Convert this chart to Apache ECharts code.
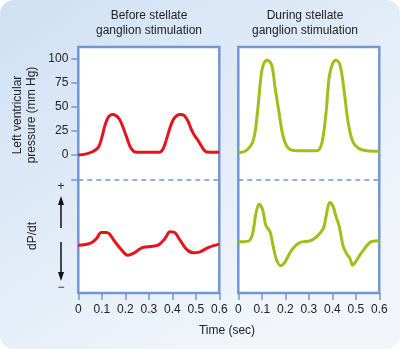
<!DOCTYPE html>
<html>
<head>
<meta charset="utf-8">
<style>
  html, body { margin: 0; padding: 0; background: #fff; }
  #chart { width: 400px; height: 349px; }
</style>
<script src="https://cdn.jsdelivr.net/npm/echarts@6/dist/echarts.min.js"></script>
</head>
<body>
<div id="chart"></div>
<script>
// Time axis (seconds) and pressure tick labels
const timeMin = 0, timeMax = 0.6, timeStep = 0.1;
const pressureTicks = [0, 25, 50, 75, 100];

// Left ventricular pressure (mm Hg) before stimulation: [time, pressure]
const beforePressure = [
  [0, 0], [0.03, 1], [0.06, 3.5], [0.085, 8], [0.1, 18], [0.115, 32], [0.13, 40],
  [0.145, 42], [0.16, 41], [0.175, 37], [0.19, 29], [0.205, 19], [0.22, 9],
  [0.235, 4], [0.25, 3], [0.3, 3], [0.345, 3], [0.36, 6], [0.375, 16], [0.39, 28],
  [0.405, 37], [0.42, 41], [0.435, 42], [0.45, 41], [0.465, 36], [0.48, 27],
  [0.495, 20], [0.51, 15], [0.525, 9], [0.54, 4], [0.56, 3], [0.6, 3]
];

// dP/dt before stimulation (relative units)
const beforeDpdt = [
  [0, -8], [0.05, -6.4], [0.078, -2], [0.097, 3.2], [0.121, 3.2], [0.156, -5],
  [0.185, -12.3], [0.21, -16.7], [0.234, -15.2], [0.27, -10.3], [0.305, -9.1],
  [0.34, -7.9], [0.369, -2], [0.39, 3.8], [0.407, 3.5], [0.433, -3.5],
  [0.461, -11.7], [0.489, -14.7], [0.518, -13.8], [0.553, -10], [0.6, -7]
];

// Left ventricular pressure (mm Hg) during stimulation
const duringPressure = [
  [0, 2.4], [0.036, 5.2], [0.064, 15.5], [0.081, 43], [0.095, 77.6], [0.106, 93],
  [0.123, 98], [0.142, 93], [0.156, 70.6], [0.174, 43], [0.191, 19], [0.213, 7],
  [0.248, 4.5], [0.334, 4.5], [0.355, 12], [0.373, 43], [0.387, 81], [0.402, 95],
  [0.416, 98], [0.433, 93], [0.45, 67], [0.468, 33], [0.487, 14], [0.511, 7],
  [0.546, 4.5], [0.6, 4]
];

// dP/dt during stimulation (relative units)
const duringDpdt = [
  [0, -5], [0.043, -4.4], [0.061, 2.3], [0.075, 20], [0.089, 28], [0.104, 22.9],
  [0.117, 9.7], [0.135, 3.8], [0.149, -9.4], [0.163, -21], [0.18, -26],
  [0.199, -22.6], [0.227, -12.3], [0.262, -5.6], [0.305, -4.1], [0.333, -0.6],
  [0.362, 6.8], [0.373, 17], [0.39, 29.6], [0.404, 25.8], [0.414, 18.5],
  [0.43, 8.2], [0.447, -9.4], [0.465, -16.7], [0.475, -19.6], [0.487, -25.5],
  [0.504, -21], [0.532, -12.3], [0.568, -4.7], [0.6, -4.1]
];

const frameBlue = '#7098d6';
const textColor = '#222';
const fontFamily = '"Liberation Sans", Arial, Helvetica, sans-serif';
const redLine = '#e5141c';
const greenLine = '#9dc01a';

const panels = [
  { left: 78.3, pressure: beforePressure, dpdt: beforeDpdt, color: redLine, showY: true },
  { left: 238.3, pressure: duringPressure, dpdt: duringDpdt, color: greenLine, showY: false }
];
const panelWidth = 141;

const grid = [], xAxis = [], yAxis = [], series = [];
panels.forEach((p, i) => {
  // frame (white box with blue border)
  grid.push({ left: p.left, top: 47, width: panelWidth, height: 246, show: true,
    backgroundColor: '#fff', borderColor: frameBlue, borderWidth: 2.5 });
  // pressure area
  grid.push({ left: p.left, top: 58.3, width: panelWidth, height: 121 });
  // dP/dt area
  grid.push({ left: p.left, top: 179.3, width: panelWidth, height: 113.7 });
  const g = i * 3;

  xAxis.push({ gridIndex: g, type: 'value', min: 0, max: 1, show: false });
  yAxis.push({ gridIndex: g, type: 'value', min: 0, max: 1, show: false });

  xAxis.push({ gridIndex: g + 1, type: 'value', min: timeMin, max: timeMax, show: false });
  yAxis.push({
    gridIndex: g + 1, type: 'value', min: -25, max: 100, interval: 25,
    position: 'left',
    axisLine: { show: false, onZero: false },
    splitLine: { show: false },
    axisTick: { show: p.showY, length: 7, lineStyle: { color: frameBlue, width: 1.5 } },
    axisLabel: {
      show: p.showY, margin: 10, color: textColor, fontSize: 12, fontFamily,
      formatter: v => pressureTicks.includes(v) ? String(v) : ''
    }
  });

  xAxis.push({
    gridIndex: g + 2, type: 'value', min: timeMin, max: timeMax, interval: timeStep,
    position: 'bottom',
    axisLine: { show: false, onZero: false },
    splitLine: { show: false },
    axisTick: { show: true, length: 7, lineStyle: { color: frameBlue, width: 1.5 } },
    axisLabel: { margin: 11, color: textColor, fontSize: 12, fontFamily,
      formatter: v => String(Math.round(v * 10) / 10) }
  });
  yAxis.push({ gridIndex: g + 2, type: 'value', min: -50, max: 50, show: false });

  series.push({
    type: 'line', xAxisIndex: g + 1, yAxisIndex: g + 1, data: p.pressure,
    smooth: 0.35, showSymbol: false, clip: false, z: 3,
    lineStyle: { color: p.color, width: 3 },
    markLine: {
      silent: true, symbol: 'none', label: { show: false },
      lineStyle: { color: frameBlue, type: [5, 4], width: 1.5 },
      data: [{ yAxis: -25 }]
    }
  });
  series.push({
    type: 'line', xAxisIndex: g + 2, yAxisIndex: g + 2, data: p.dpdt,
    smooth: 0.35, showSymbol: false, clip: false, z: 3,
    lineStyle: { color: p.color, width: 3 }
  });
});

const txt = (text, x, y) => ({
  type: 'text', x, y, z: 10,
  style: { text, fill: textColor, font: '12px ' + fontFamily, textAlign: 'center', textVerticalAlign: 'middle' }
});

const rotText = (text, x, y) => ({
  type: 'text', x, y, rotation: Math.PI / 2, z: 10,
  style: { text, fill: textColor, font: '12px ' + fontFamily, textAlign: 'center', textVerticalAlign: 'middle' }
});

const graphic = [
  {
    type: 'rect', z: -100, silent: true,
    shape: { x: 0, y: 0, width: 400, height: 349, r: 14 },
    style: {
      fill: new echarts.graphic.LinearGradient(0, 0, 0.6, 1, [
        { offset: 0, color: '#cfe0f4' },
        { offset: 1, color: '#f2f6fb' }
      ])
    }
  },
  txt('Before stellate', 149, 16),
  txt('ganglion stimulation', 149, 31),
  txt('During stellate', 305, 16),
  txt('ganglion stimulation', 305, 31),
  txt('Time (sec)', 227, 331),
  rotText('Left ventricular', 18, 115),
  rotText('pressure (mm Hg)', 32, 115),
  rotText('dP/dt', 33, 236),
  txt('+', 61, 187),
  txt('\u2212', 61, 288),
  { type: 'line', z: 10, shape: { x1: 61, y1: 203, x2: 61, y2: 228 }, style: { stroke: '#111', lineWidth: 1.5 } },
  { type: 'polygon', z: 10, shape: { points: [[61, 196], [58, 205], [64, 205]] }, style: { fill: '#111' } },
  { type: 'line', z: 10, shape: { x1: 61, y1: 242, x2: 61, y2: 274 }, style: { stroke: '#111', lineWidth: 1.5 } },
  { type: 'polygon', z: 10, shape: { points: [[61, 281], [58, 272], [64, 272]] }, style: { fill: '#111' } }
];

const chart = echarts.init(document.getElementById('chart'), null, { renderer: 'canvas' });
chart.setOption({
  backgroundColor: '#fff',
  animation: false,
  textStyle: { fontFamily },
  grid, xAxis, yAxis, series, graphic
});
</script>
</body>
</html>
